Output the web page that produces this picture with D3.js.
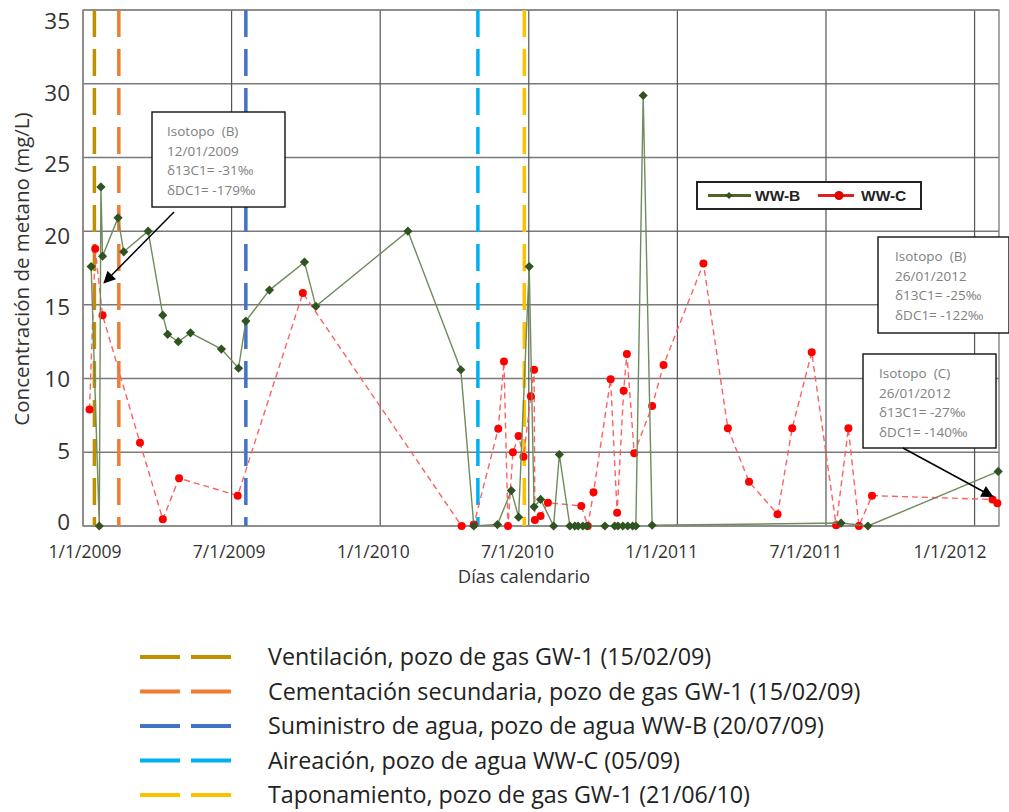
<!DOCTYPE html>
<html>
<head>
<meta charset="utf-8">
<script src="https://cdn.jsdelivr.net/npm/d3@7"></script>
<style>
  body { margin: 0; background: #fff; }
  svg { display: block; }
</style>
</head>
<body>
<div id="chart"></div>
<script>
// ---- data ----
var wwbDates = ["2009-01-11","2009-01-21","2009-01-23","2009-01-25","2009-02-13","2009-02-20","2009-03-22",
  "2009-04-09","2009-04-15","2009-04-28","2009-05-13","2009-06-20","2009-07-11","2009-07-20","2009-08-18",
  "2009-09-30","2009-10-14","2010-02-04","2010-04-10","2010-04-26","2010-05-25","2010-06-11","2010-06-20",
  "2010-07-03","2010-07-09","2010-07-17","2010-08-02","2010-08-09","2010-08-22","2010-08-28","2010-09-01",
  "2010-09-07","2010-09-12","2010-10-04","2010-10-16","2010-10-20","2010-10-26","2010-11-01","2010-11-07",
  "2010-11-11","2010-11-20","2010-12-01","2011-07-21","2011-08-23","2012-01-30"];
var wwbValues = [17.6, 0, 23.0, 18.3, 20.9, 18.6, 20.0,
  14.3, 13.0, 12.5, 13.1, 12.0, 10.7, 13.9, 16.0,
  17.9, 14.9, 20.0, 10.6, 0, 0.1, 2.4, 0.6,
  17.6, 1.3, 1.8, 0, 4.85, 0, 0, 0,
  0, 0, 0, 0, 0, 0, 0, 0,
  0, 29.2, 0.05, 0.2, 0, 3.7];

var wwcDates = ["2009-01-09","2009-01-16","2009-01-25","2009-03-12","2009-04-09","2009-04-29","2009-07-10",
  "2009-09-28","2010-04-11","2010-04-26","2010-05-26","2010-06-02","2010-06-07","2010-06-13","2010-06-20",
  "2010-06-26","2010-07-05","2010-07-09","2010-07-10","2010-07-17","2010-07-26","2010-09-05","2010-09-13",
  "2010-09-20","2010-10-11","2010-10-19","2010-10-27","2010-10-31","2010-11-09","2010-12-01","2010-12-15",
  "2011-02-02","2011-03-04","2011-03-30","2011-05-04","2011-05-22","2011-06-15","2011-07-15","2011-07-30",
  "2011-08-12","2011-08-28","2012-01-23","2012-01-29"];
var wwcValues = [7.9, 18.8, 14.3, 5.65, 0.45, 3.24, 2.06,
  15.8, 0, 0.1, 6.6, 11.15, 0, 5.0, 6.1,
  4.7, 8.8, 10.6, 0.4, 0.68, 1.58, 1.36, 0,
  2.29, 9.95, 0.9, 9.18, 11.67, 4.93, 8.14, 10.92,
  17.8, 6.63, 3.0, 0.8, 6.63, 11.78, 0.05, 6.63,
  0, 2.06, 1.8, 1.54];

var seriesNames = ["WW-B", "WW-C"];

var eventDates = ["2009-01-15", "2009-02-14", "2009-07-20", "2010-05-01", "2010-06-27"];
var eventLabels = [
  "Ventilación, pozo de gas GW-1 (15/02/09)",
  "Cementación secundaria, pozo de gas GW-1 (15/02/09)",
  "Suministro de agua, pozo de agua WW-B (20/07/09)",
  "Aireación, pozo de agua WW-C (05/09)",
  "Taponamiento, pozo de gas GW-1 (21/06/10)"
];
var eventColors = ["#bf9000", "#ed7d31", "#4472c4", "#00b0f0", "#ffc000"];

var xTickLabels = ["1/1/2009", "7/1/2009", "1/1/2010", "7/1/2010", "1/1/2011", "7/1/2011", "1/1/2012"];
var yTicks = [0, 5, 10, 15, 20, 25, 30, 35];

var noteLines = [
  ["Isotopo\u00a0\u00a0(B)", "12/01/2009", "δ13C1= -31‰", "δDC1= -179‰"],
  ["Isotopo\u00a0\u00a0(B)", "26/01/2012", "δ13C1= -25‰", "δDC1= -122‰"],
  ["Isotopo\u00a0\u00a0(C)", "26/01/2012", "δ13C1= -27‰", "δDC1= -140‰"]
];
var noteTargetDates = ["2009-01-27", null, "2012-01-23"];
var noteTargetValues = [16.5, null, 2.0];

// ---- layout ----
var W = 1009, H = 812;
var plot = {left: 83, right: 999, top: 10, bottom: 526};
var parse = d3.timeParse("%Y-%m-%d");
var font = "'Open Sans', 'DejaVu Sans', sans-serif";

var svg = d3.select("#chart").append("svg")
    .attr("width", W).attr("height", H);

var defs = svg.append("defs");
defs.append("marker")
    .attr("id", "arrowhead")
    .attr("viewBox", "0 0 10 10")
    .attr("refX", 9).attr("refY", 5)
    .attr("markerWidth", 13).attr("markerHeight", 12)
    .attr("markerUnits", "userSpaceOnUse")
    .attr("orient", "auto")
  .append("path")
    .attr("d", "M0,0 L10,5 L0,10 z")
    .attr("fill", "#000");

var x = d3.scaleTime()
    .domain([parse("2009-01-01"), parse("2012-01-31")])
    .range([plot.left, plot.right]);

var y = d3.scaleLinear()
    .domain([0, 35])
    .range([plot.bottom, plot.top]);

// excel spaces the major ticks evenly (half a year)
var start = parse("2009-01-01");
var xTicks = xTickLabels.map(function (d, i) { return d3.timeHour.offset(start, Math.round(i * 182.5 * 24)); });

// the tick labels in the picture sit on a slightly squeezed scale
var yLabel = d3.scaleLinear()
    .domain([0, 35])
    .range([522, 21]);
var xLabel = d3.scaleTime()
    .domain([xTicks[0], xTicks[xTicks.length - 1]])
    .range([85, 950]);

// grid
svg.append("g").selectAll("line.hgrid")
    .data(yTicks)
    .enter().append("line")
      .attr("x1", plot.left).attr("x2", plot.right)
      .attr("y1", function (d) { return y(d); })
      .attr("y2", function (d) { return y(d); })
      .attr("stroke", "#7a7a7a")
      .attr("stroke-width", 1.5);

svg.append("g").selectAll("line.vgrid")
    .data(xTicks)
    .enter().append("line")
      .attr("x1", function (d) { return x(d); })
      .attr("x2", function (d) { return x(d); })
      .attr("y1", plot.top).attr("y2", plot.bottom)
      .attr("stroke", "#555")
      .attr("stroke-width", 1.2);

// frame
svg.append("rect")
    .attr("x", plot.left).attr("y", plot.top)
    .attr("width", plot.right - plot.left).attr("height", plot.bottom - plot.top)
    .attr("fill", "none")
    .attr("stroke", "#8a8a8a")
    .attr("stroke-width", 1.5);

// y tick labels
svg.append("g").selectAll("text.ytick")
    .data(yTicks)
    .enter().append("text")
      .attr("x", 70)
      .attr("y", function (d) { return yLabel(d); })
      .attr("dy", "0.36em")
      .attr("text-anchor", "end")
      .attr("font-family", font)
      .attr("font-size", 22.5)
      .attr("fill", "#333")
      .text(function (d) { return d; });

// x tick labels
svg.append("g").selectAll("text.xtick")
    .data(xTicks)
    .enter().append("text")
      .attr("x", function (d) { return xLabel(d); })
      .attr("y", 558)
      .attr("text-anchor", "middle")
      .attr("font-family", font)
      .attr("font-size", 17.5)
      .attr("fill", "#333")
      .text(function (d, i) { return xTickLabels[i]; });

// axis titles
svg.append("text")
    .attr("x", 524).attr("y", 583)
    .attr("text-anchor", "middle")
    .attr("font-family", font)
    .attr("font-size", 18.5)
    .attr("fill", "#333")
    .text("Días calendario");

svg.append("text")
    .attr("transform", "translate(29,269) rotate(-90)")
    .attr("text-anchor", "middle")
    .attr("font-family", font)
    .attr("font-size", 20.5)
    .attr("fill", "#333")
    .text("Concentración de metano (mg/L)");

// event lines
svg.append("g").selectAll("line.event")
    .data(eventDates)
    .enter().append("line")
      .attr("x1", function (d) { return x(parse(d)); })
      .attr("x2", function (d) { return x(parse(d)); })
      .attr("y1", plot.top).attr("y2", plot.bottom)
      .attr("stroke", function (d, i) { return eventColors[i]; })
      .attr("stroke-width", 3.5)
      .attr("stroke-dasharray", "27,12");

var wwc = wwcDates.map(function (d, i) { return {date: parse(d), value: wwcValues[i]}; });
var wwb = wwbDates.map(function (d, i) { return {date: parse(d), value: wwbValues[i]}; });

var line = d3.line()
    .x(function (d) { return x(d.date); })
    .y(function (d) { return y(d.value); });

// series WW-C (red, dashed)
svg.append("path")
    .datum(wwc)
    .attr("d", line)
    .attr("fill", "none")
    .attr("stroke", "#ff6060")
    .attr("stroke-width", 1.4)
    .attr("stroke-dasharray", "6,4");

svg.append("g").selectAll("circle")
    .data(wwc)
    .enter().append("circle")
      .attr("cx", function (d) { return x(d.date); })
      .attr("cy", function (d) { return y(d.value); })
      .attr("r", 4)
      .attr("fill", "#ff0000");

// series WW-B (green, diamonds)
svg.append("path")
    .datum(wwb)
    .attr("d", line)
    .attr("fill", "none")
    .attr("stroke", "#6f8c5c")
    .attr("stroke-width", 1.4);

svg.append("g").selectAll("path.diamond")
    .data(wwb)
    .enter().append("path")
      .attr("transform", function (d) { return "translate(" + x(d.date) + "," + y(d.value) + ")"; })
      .attr("d", "M0,-4.6 L4.6,0 L0,4.6 L-4.6,0 Z")
      .attr("fill", "#2f5421");

// series legend inside plot
var lg = svg.append("g").attr("transform", "translate(697,182)");
lg.append("rect")
    .attr("width", 224).attr("height", 27)
    .attr("fill", "#fff")
    .attr("stroke", "#222")
    .attr("stroke-width", 2);
lg.append("line").attr("x1", 11).attr("x2", 54).attr("y1", 13.5).attr("y2", 13.5)
    .attr("stroke", "#4f6228").attr("stroke-width", 3);
lg.append("path").attr("transform", "translate(32,13.5)")
    .attr("d", "M0,-3.5 L3.5,0 L0,3.5 L-3.5,0 Z").attr("fill", "#2f5421");
lg.append("line").attr("x1", 121).attr("x2", 157).attr("y1", 13.5).attr("y2", 13.5)
    .attr("stroke", "#e02020").attr("stroke-width", 3);
lg.append("circle").attr("cx", 142).attr("cy", 13.5).attr("r", 4.5).attr("fill", "#e00000");
lg.selectAll("text")
    .data(seriesNames)
    .enter().append("text")
      .attr("x", function (d, i) { return i === 0 ? 58 : 164; })
      .attr("y", 19)
      .attr("font-family", "'Liberation Sans', Arial, sans-serif")
      .attr("font-weight", "bold")
      .attr("font-size", 15.5)
      .attr("fill", "#222")
      .text(function (d) { return d; });

// isotope notes
var noteBoxes = [
  {x: 152, y: 112, w: 133, h: 95, tx: 167, ax: 174, ay: 212},
  {x: 878, y: 237, w: 131, h: 96, tx: 895, ax: null, ay: null},
  {x: 863, y: 354, w: 133, h: 94, tx: 879, ax: 903, ay: 448}
];

noteBoxes.forEach(function (b, k) {
  var g = svg.append("g");
  g.append("rect")
      .attr("x", b.x).attr("y", b.y)
      .attr("width", b.w).attr("height", b.h)
      .attr("fill", "#fff")
      .attr("stroke", "#111")
      .attr("stroke-width", 1.4);
  g.selectAll("text")
      .data(noteLines[k])
      .enter().append("text")
        .attr("x", b.tx)
        .attr("y", function (d, i) { return b.y + 24 + i * 19.5; })
        .attr("font-family", font)
        .attr("font-size", 13.5)
        .attr("fill", "#808080")
        .text(function (d) { return d; });
  if (noteTargetDates[k]) {
    svg.append("line")
        .attr("x1", b.ax).attr("y1", b.ay)
        .attr("x2", x(parse(noteTargetDates[k])))
        .attr("y2", y(noteTargetValues[k]))
        .attr("stroke", "#000")
        .attr("stroke-width", 1.5)
        .attr("marker-end", "url(#arrowhead)");
  }
});

// event legend below
var elg = svg.append("g").selectAll("g")
    .data(eventLabels)
    .enter().append("g")
      .attr("transform", function (d, i) { return "translate(0," + (657 + i * 34.5) + ")"; });
elg.append("line")
    .attr("x1", 140).attr("x2", 231)
    .attr("stroke", function (d, i) { return eventColors[i]; })
    .attr("stroke-width", 4)
    .attr("stroke-dasharray", "40,11");
elg.append("text")
    .attr("x", 268)
    .attr("dy", "0.35em")
    .attr("font-family", font)
    .attr("font-size", 23.3)
    .attr("fill", "#222")
    .text(function (d) { return d; });
</script>
</body>
</html>
